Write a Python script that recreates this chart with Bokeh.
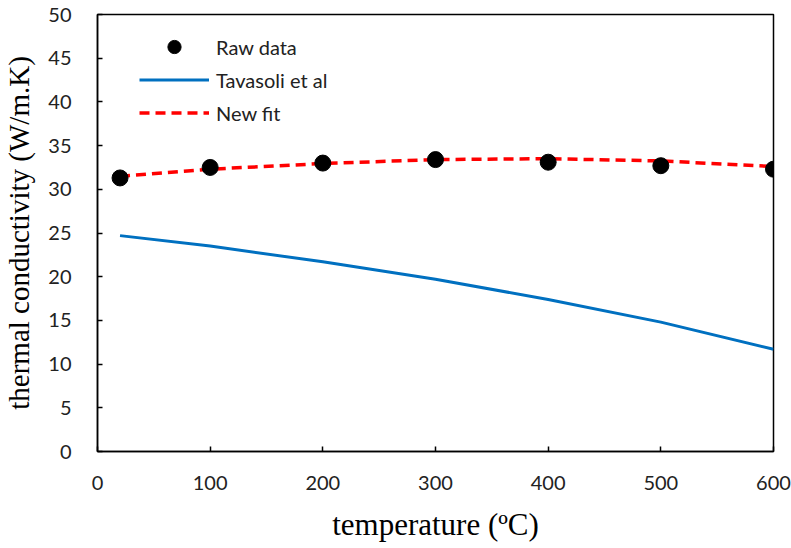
from bokeh.plotting import figure
from bokeh.models import Range1d, FixedTicker, Legend, LegendItem
from bokeh.embed import file_html
from bokeh.resources import INLINE

raw_T = [20, 100, 200, 300, 400, 500, 600]
raw_k = [31.3, 32.5, 33.0, 33.4, 33.1, 32.7, 32.3]

tav_T = [20, 100, 200, 300, 400, 500, 600]
tav_k = [24.7, 23.5, 21.7, 19.7, 17.4, 14.8, 11.7]

fit_T = [20, 100, 200, 300, 400, 500, 600]
fit_k = [31.5, 32.3, 32.95, 33.4, 33.5, 33.25, 32.6]

x_ticks = [0, 100, 200, 300, 400, 500, 600]
y_ticks = [0, 5, 10, 15, 20, 25, 30, 35, 40, 45, 50]

p = figure(width=791, height=548, output_backend="svg", toolbar_location=None,
           x_range=Range1d(0, 600), y_range=Range1d(0, 50),
           min_border_left=96, min_border_right=18, min_border_top=14, min_border_bottom=97)
p.xgrid.visible = False
p.ygrid.visible = False
p.outline_line_color = "black"
p.outline_line_width = 1.5

for ax in (p.xaxis, p.yaxis):
    ax.axis_line_color = "black"
    ax.axis_line_width = 1.5
    ax.major_tick_in = 5
    ax.major_tick_out = 0
    ax.minor_tick_line_color = None
    ax.major_tick_line_color = "black"
    ax.major_tick_line_width = 1.5
    ax.major_label_text_font = "Lato"
    ax.major_label_text_font_size = "20px"
    ax.major_label_text_color = "#222222"
    ax.axis_label_text_font = "Liberation Serif"
    ax.axis_label_text_font_style = "normal"
    ax.axis_label_text_color = "black"

p.xaxis.ticker = FixedTicker(ticks=x_ticks)
p.yaxis.ticker = FixedTicker(ticks=y_ticks)
p.xaxis.major_label_standoff = 24
p.yaxis.major_label_standoff = 26
p.xaxis.axis_label = "temperature (ºC)"
p.yaxis.axis_label = "thermal conductivity (W/m.K)"
p.xaxis.axis_label_text_font_size = "31px"
p.yaxis.axis_label_text_font_size = "29px"
p.xaxis.axis_label_standoff = 14
p.yaxis.axis_label_standoff = 10

r_tav = p.line(tav_T, tav_k, line_color="#0070C0", line_width=3)
r_fit = p.line(fit_T, fit_k, line_color="#FF0000", line_width=3.5, line_dash="10 6")
r_raw = p.scatter(raw_T, raw_k, size=16, fill_color="black", line_color="black")

legend = Legend(items=[
    LegendItem(label="Raw data", renderers=[r_raw]),
    LegendItem(label="Tavasoli et al", renderers=[r_tav]),
    LegendItem(label="New fit", renderers=[r_fit]),
], location=(42, 322))
legend.border_line_color = None
legend.background_fill_alpha = 0
legend.glyph_width = 70
legend.glyph_height = 33
legend.spacing = 0
legend.padding = 5
legend.margin = 0
legend.label_standoff = 7
legend.label_text_font = "Lato"
legend.label_text_font_size = "20px"
legend.label_text_color = "#222222"
p.add_layout(legend)

open("out.html", "w").write(file_html(p, INLINE))
